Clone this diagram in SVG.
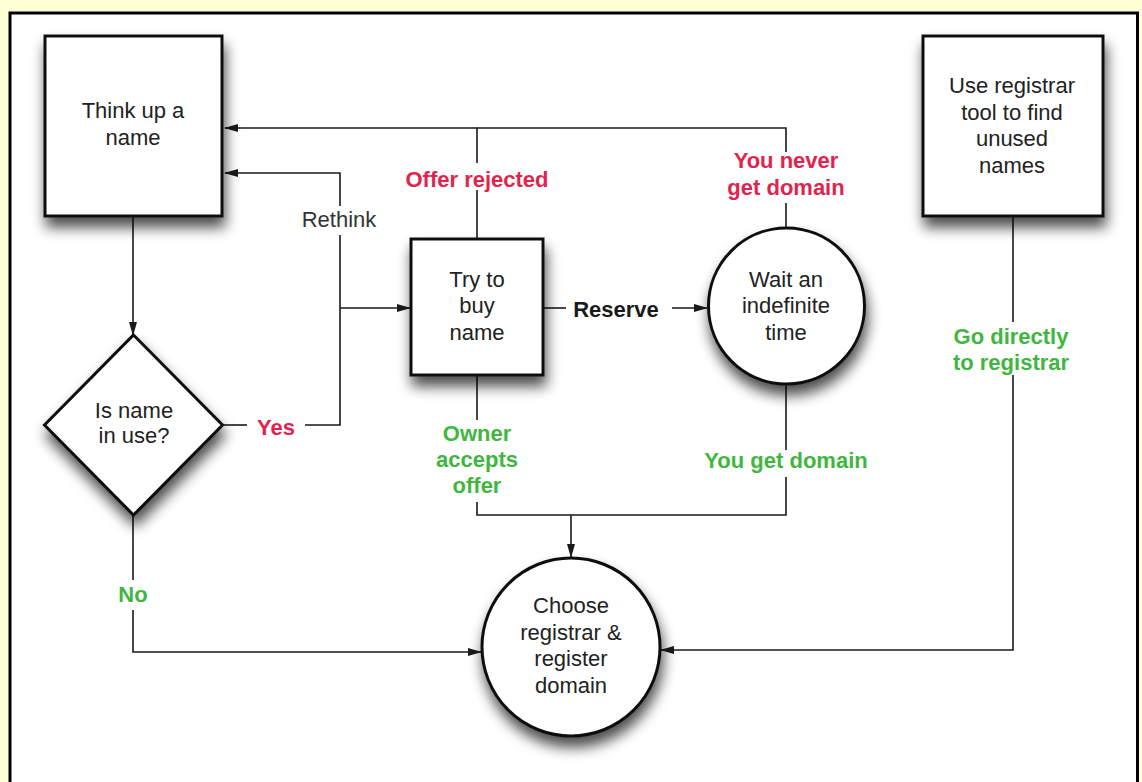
<svg xmlns="http://www.w3.org/2000/svg" width="1142" height="782" viewBox="0 0 1142 782">
<style>
.node{fill:#fff;stroke:#111;stroke-width:3;filter:url(#sh)}
.nt{font-family:"Liberation Sans",Arial,sans-serif;font-size:22px;fill:#222;text-anchor:middle}
.lbl{font-family:"Liberation Sans",Arial,sans-serif;font-size:22px;font-weight:bold;text-anchor:middle}
.red{fill:#e2234d}
.green{fill:#3fb73f}
.blk{fill:#1a1a1a}
.reg{font-weight:normal;fill:#333}
.c{fill:none;stroke:#1a1a1a;stroke-width:1.6}
.ca{fill:none;stroke:#1a1a1a;stroke-width:1.6;marker-end:url(#ah)}
</style>
<defs>
<filter id="sh" x="-30%" y="-30%" width="160%" height="170%">
<feGaussianBlur in="SourceAlpha" stdDeviation="7"/>
<feOffset dx="2" dy="10" result="b"/>
<feComponentTransfer><feFuncA type="linear" slope="0.7"/></feComponentTransfer>
<feMerge><feMergeNode/><feMergeNode in="SourceGraphic"/></feMerge>
</filter>
<marker id="ah" markerWidth="14" markerHeight="10" refX="13" refY="5" orient="auto" markerUnits="userSpaceOnUse">
<path d="M0,1 L14,5 L0,9 z" fill="#1a1a1a"/>
</marker>
</defs>
<rect x="0" y="0" width="1142" height="782" fill="#ffffd6"/>
<rect x="10" y="13" width="1127.5" height="800" fill="#fff" stroke="#000" stroke-width="3"/>

<g id="connectors">
<line class="ca" x1="133" y1="216" x2="133" y2="335"/>
<polyline class="c" points="222,425 247,425"/>
<polyline class="c" points="305,425 340,425 340,235"/>
<line class="ca" x1="340" y1="308" x2="410" y2="308"/>
<polyline class="ca" points="340,206 340,173 225,173"/>
<polyline class="c" points="477,239 477,190"/>
<polyline class="c" points="786,228 786,203"/>
<polyline class="ca" points="477,163 477,128 225,128"/>
<polyline class="c" points="786,152 786,128 477,128"/>
<line class="c" x1="543" y1="308" x2="566" y2="308"/>
<line class="ca" x1="672" y1="308" x2="707" y2="308"/>
<line class="c" x1="477" y1="375" x2="477" y2="420"/>
<polyline class="c" points="477,502 477,515 786,515 786,477"/>
<line class="c" x1="786" y1="385" x2="786" y2="450"/>
<line class="ca" x1="571" y1="515" x2="571" y2="557"/>
<line class="c" x1="133" y1="515" x2="133" y2="580"/>
<polyline class="ca" points="133,610 133,652 481,652"/>
<line class="c" x1="1013" y1="216" x2="1013" y2="322"/>
<polyline class="ca" points="1013,375 1013,650 661,650"/>
</g>

<g id="labels">
<text class="lbl reg" x="339" y="227">Rethink</text>
<text class="lbl red" x="276" y="435">Yes</text>
<text class="lbl red" x="477" y="187">Offer rejected</text>
<text class="lbl red" x="786" y="168">You never</text>
<text class="lbl red" x="786" y="195">get domain</text>
<text class="lbl blk" x="616" y="317">Reserve</text>
<text class="lbl green" x="477" y="441">Owner</text>
<text class="lbl green" x="477" y="467">accepts</text>
<text class="lbl green" x="477" y="493">offer</text>
<text class="lbl green" x="786" y="468">You get domain</text>
<text class="lbl green" x="133" y="602">No</text>
<text class="lbl green" x="1011" y="344">Go directly</text>
<text class="lbl green" x="1011" y="370">to registrar</text>
</g>

<g id="think">
<rect class="node" x="45" y="36" width="177" height="180"/>
<text class="nt" x="133" y="118">Think up a</text>
<text class="nt" x="133" y="145">name</text>
</g>
<g id="inuse">
<polygon class="node" points="133.5,335 222.5,425 133.5,515 44.5,425"/>
<text class="nt" x="134" y="418">Is name</text>
<text class="nt" x="134" y="443">in use?</text>
</g>
<g id="buy">
<rect class="node" x="411" y="239" width="132" height="136"/>
<text class="nt" x="477" y="287">Try to</text>
<text class="nt" x="477" y="313">buy</text>
<text class="nt" x="477" y="340">name</text>
</g>
<g id="wait">
<circle class="node" cx="786.5" cy="306" r="78"/>
<text class="nt" x="786" y="287">Wait an</text>
<text class="nt" x="786" y="313">indefinite</text>
<text class="nt" x="786" y="340">time</text>
</g>
<g id="tool">
<rect class="node" x="923" y="36" width="180" height="180"/>
<text class="nt" x="1012" y="93">Use registrar</text>
<text class="nt" x="1012" y="120">tool to find</text>
<text class="nt" x="1012" y="146">unused</text>
<text class="nt" x="1012" y="173">names</text>
</g>
<g id="register">
<circle class="node" cx="571" cy="647" r="89"/>
<text class="nt" x="571" y="613">Choose</text>
<text class="nt" x="571" y="640">registrar &amp;</text>
<text class="nt" x="571" y="666">register</text>
<text class="nt" x="571" y="693">domain</text>
</g>
</svg>
